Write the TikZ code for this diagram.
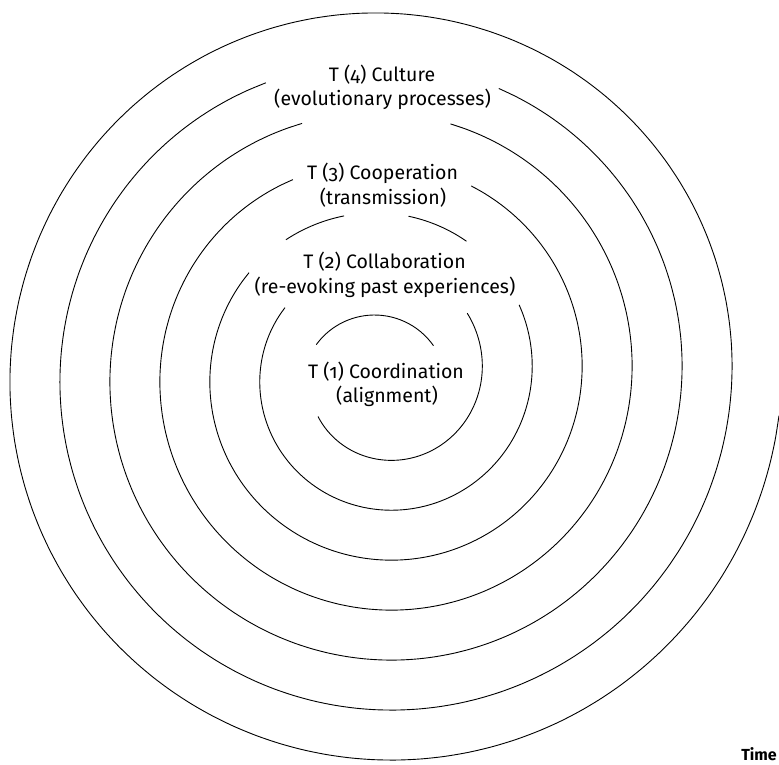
\documentclass[tikz,border=0pt]{standalone}
\usepackage{fontspec}
\setmainfont{Fira Sans}[Numbers=OldStyle]
\begin{document}
\begin{tikzpicture}[x=1pt,y=-1pt,
  spiralarc/.style={line width=0.9pt},
  lbl/.style={font=\fontsize{19.5}{23}\selectfont, inner sep=0pt, anchor=base},
  timelbl/.style={font=\fontsize{16}{20}\selectfont\bfseries, inner sep=0pt, anchor=base east}]
\useasboundingbox (0,0) rectangle (779,764);
\begin{scope}
\clip (0,0) rectangle (779,764);
% innermost top arc
\draw[spiralarc] (374.5,387) ++(35:72 and -72) arc[start angle=-35, end angle=-144, radius=72];
\foreach \a/\b/\n in {213/396/60, 506/747/70, 778/801/10, 824/846/10, 863/1145/80, 1195/1515/90, 1548/1868/90, 1912/2514/170}
  \draw[spiralarc] plot[smooth, domain=\a:\b, samples=\n, variable=\t]
    ({383.5+(48.5+\t/7.2)*cos(\t)}, {374-(48.5+\t/7.2)*sin(\t)});
\end{scope}
\node[lbl] (t4a) at (382,81) {T (4) Culture};
\node[lbl] (t4b) at (382.5,105) {(evolutionary processes)};
\node[lbl] (t3a) at (382.5,179) {T (3) Cooperation};
\node[lbl] (t3b) at (383,204) {(transmission)};
\node[lbl] (t2a) at (384.5,268) {T (2) Collaboration};
\node[lbl] (t2b) at (385,293) {(re-evoking past experiences)};
\node[lbl] (t1a) at (386,378) {T (1) Coordination};
\node[lbl] (t1b) at (387,402) {(alignment)};
\node[timelbl] (time) at (777,760) {Time};
\end{tikzpicture}
\end{document}
